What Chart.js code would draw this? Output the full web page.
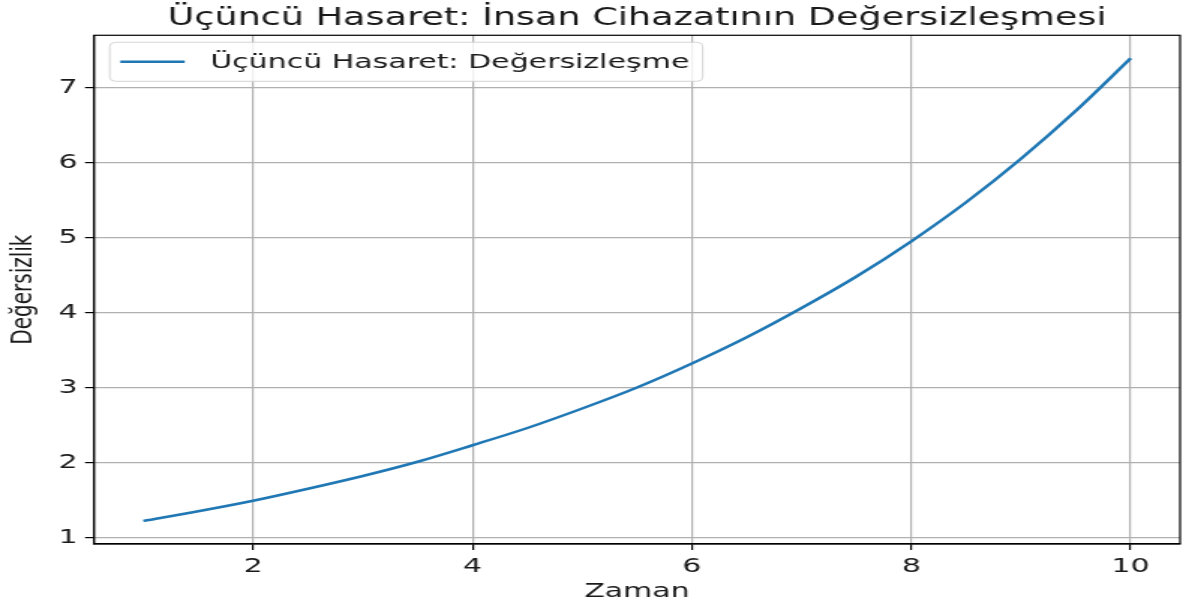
<!DOCTYPE html>
<html>
<head>
<meta charset="utf-8">
<script src="https://cdn.jsdelivr.net/npm/chart.js@4"></script>
<style>
  html, body { margin: 0; padding: 0; background: #fff; overflow: hidden; }
  #wrap { width: 1183px; height: 609px; overflow: hidden; }
  /* the reference is a figure stretched sideways, so draw narrow and stretch */
  #chart { width: 789px; height: 609px; transform: scaleX(1.4994); transform-origin: 0 0; }
</style>
</head>
<body>
<div id="wrap"><canvas id="chart" width="789" height="609"></canvas></div>
<script>
// values
const zaman = [1, 1.5, 2, 2.5, 3, 3.5, 4, 4.5, 5, 5.5, 6, 6.5, 7, 7.5, 8, 8.5, 9, 9.5, 10];
const degersizlik = [1.22, 1.35, 1.49, 1.65, 1.82, 2.01, 2.23, 2.46, 2.72, 3.00, 3.32, 3.67, 4.06, 4.48, 4.95, 5.47, 6.05, 6.69, 7.39];
const xTicks = [2, 4, 6, 8, 10];
const yTicks = [1, 2, 3, 4, 5, 6, 7];
const seriesLabel = 'Üçüncü Hasaret: Değersizleşme';

const FONT = 'DejaVu Sans';
const TEXT = '#1a1a1a';

// frame round the plot area plus the legend box in the top left
const framePlugin = {
    id: 'frame',
    afterDraw(chart) {
        const { ctx, chartArea: a } = chart;
        ctx.save();
        ctx.strokeStyle = '#000';
        ctx.lineWidth = 1.2;
        ctx.strokeRect(a.left, a.top, a.right - a.left, a.bottom - a.top);

        // legend
        const ds = chart.data.datasets[0];
        ctx.font = '20px ' + FONT;
        const tw = ctx.measureText(ds.label).width;
        const bx = a.left + 10.5, by = a.top + 7, bh = 39;
        const bw = 67 + tw + 9;
        ctx.fillStyle = 'rgba(255,255,255,0.8)';
        ctx.strokeStyle = '#d4d4d4';
        ctx.lineWidth = 1;
        ctx.beginPath();
        ctx.roundRect(bx, by, bw, bh, 4);
        ctx.fill();
        ctx.stroke();
        ctx.strokeStyle = ds.borderColor;
        ctx.lineWidth = 2.5;
        ctx.beginPath();
        ctx.moveTo(bx + 7, by + bh / 2);
        ctx.lineTo(bx + 50, by + bh / 2);
        ctx.stroke();
        ctx.fillStyle = TEXT;
        ctx.textBaseline = 'middle';
        ctx.fillText(ds.label, bx + 67, by + bh / 2 + 1);
        ctx.restore();
    }
};

new Chart(document.getElementById('chart'), {
    type: 'line',
    data: {
        datasets: [{
            label: seriesLabel,
            data: zaman.map((x, i) => ({ x: x, y: degersizlik[i] })),
            borderColor: '#1f77b4',
            borderWidth: 2.5,
            pointRadius: 0,
            cubicInterpolationMode: 'monotone',
            fill: false
        }]
    },
    options: {
        responsive: false,
        animation: false,
        layout: { padding: { top: 2, right: 2, left: 0, bottom: 0 } },
        plugins: {
            legend: { display: false },
            tooltip: { enabled: false },
            title: {
                display: true,
                fullSize: false,
                text: 'Üçüncü Hasaret: İnsan Cihazatının Değersizleşmesi',
                color: TEXT,
                font: { family: FONT, size: 24.4, weight: 'normal' },
                padding: { top: 2, bottom: 2 }
            }
        },
        scales: {
            x: {
                type: 'linear',
                min: 0.55,
                max: 10.45,
                afterBuildTicks: s => { s.ticks = xTicks.map(v => ({ value: v })); },
                afterFit: s => { s.height = 65; },
                grid: { color: '#b0b0b0', lineWidth: 1.2, tickLength: 6, tickColor: '#000' },
                border: { color: '#000', width: 1.2 },
                ticks: { color: TEXT, font: { family: FONT, size: 20 }, padding: 5 },
                title: {
                    display: true, text: 'Zaman', color: TEXT,
                    font: { family: FONT, size: 20 }, padding: { top: 0, bottom: 5 }
                }
            },
            y: {
                type: 'linear',
                min: 0.913,
                max: 7.697,
                afterBuildTicks: s => { s.ticks = yTicks.map(v => ({ value: v })); },
                afterFit: s => { s.width = 62.7; },
                grid: { color: '#b0b0b0', lineWidth: 1.2, tickLength: 6, tickColor: '#000' },
                border: { color: '#000', width: 1.2 },
                ticks: { color: TEXT, font: { family: FONT, size: 20 }, padding: 5 },
                title: {
                    display: true, text: 'Değersizlik', color: TEXT,
                    font: { family: FONT, size: 20 },
                    padding: { top: 4, bottom: 0 }
                }
            }
        }
    },
    plugins: [framePlugin]
});
</script>
</body>
</html>
